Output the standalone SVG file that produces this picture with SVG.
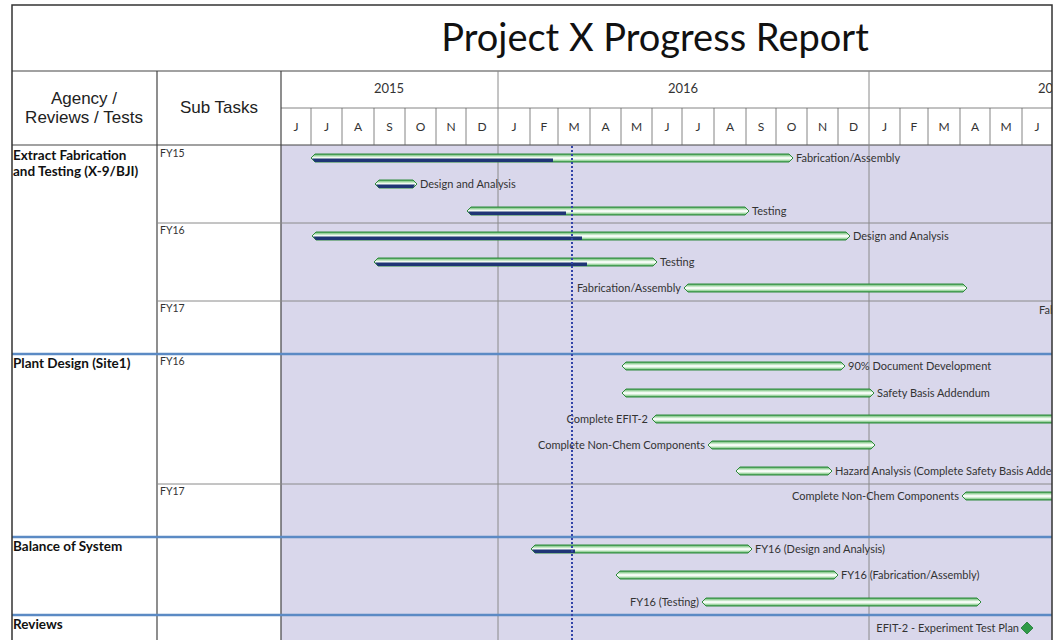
<svg xmlns="http://www.w3.org/2000/svg" width="1063" height="640" viewBox="0 0 1063 640">
<defs>
<linearGradient id="barGrad" x1="0" y1="0" x2="0" y2="1">
<stop offset="0" stop-color="#3f9f4f"/>
<stop offset="0.22" stop-color="#a6d9a9"/>
<stop offset="0.45" stop-color="#f6fcf6"/>
<stop offset="0.6" stop-color="#f6fcf6"/>
<stop offset="0.8" stop-color="#a6d9a9"/>
<stop offset="1" stop-color="#3f9f4f"/>
</linearGradient>
<clipPath id="chartClip"><rect x="281" y="71" width="771" height="569"/></clipPath>
<style>
.frame{fill:none;stroke:#333;stroke-width:1.5}
.hline{stroke:#444;stroke-width:1.2}
.mline{stroke:#666;stroke-width:0.8}
.grid{stroke:#8a8a8a;stroke-width:1}
.sec{stroke:#5b8ac4;stroke-width:2.5}
.hdr{font-family:"Liberation Sans",Arial,sans-serif;font-size:17px;fill:#222;text-anchor:middle}
.yr{font-family:Lato,"Open Sans",sans-serif;font-size:13px;fill:#333;text-anchor:middle}
.mo{font-family:Lato,"Open Sans",sans-serif;font-size:12px;fill:#333;text-anchor:middle}
.ag{font-family:Lato,"Open Sans",sans-serif;font-size:13.5px;font-weight:bold;fill:#111}
.fy{font-family:Lato,"Open Sans",sans-serif;font-size:10.5px;fill:#333}
.lbl{font-family:Lato,"Open Sans",sans-serif;font-size:11px;fill:#333}
.end{text-anchor:end}
.bar{fill:url(#barGrad);stroke:#2f8a3c;stroke-width:1}
.prog{fill:#1f3575}
.ms{fill:#2f9a47;stroke:#1f7a35;stroke-width:0.8}
.status{stroke:#3344a8;stroke-width:2;stroke-dasharray:2 2}
</style>
</defs>
<rect x="0" y="0" width="1063" height="640" fill="#fff"/>
<rect x="281" y="145" width="771" height="495" fill="#d9d7eb"/>
<g id="title">
<text x="655" y="51" font-family="Lato,'Open Sans',sans-serif" font-size="38" fill="#111" text-anchor="middle">Project X Progress Report</text>
</g>
<g id="header">
<line class="hline" x1="12" y1="71" x2="1052" y2="71"/>
<line class="hline" x1="12" y1="145" x2="1052" y2="145"/>
<line class="mline" x1="281" y1="108" x2="1052" y2="108"/>
<line class="hline" x1="157" y1="71" x2="157" y2="640"/>
<line class="hline" x1="281" y1="71" x2="281" y2="640"/>
<text class="hdr" x="84" y="104">Agency /</text>
<text class="hdr" x="84" y="123">Reviews / Tests</text>
<text class="hdr" x="219" y="113">Sub Tasks</text>
<g class="mline">
<line x1="311" y1="108" x2="311" y2="145"/><line x1="342" y1="108" x2="342" y2="145"/><line x1="374" y1="108" x2="374" y2="145"/><line x1="405" y1="108" x2="405" y2="145"/><line x1="436" y1="108" x2="436" y2="145"/><line x1="466" y1="108" x2="466" y2="145"/><line x1="530" y1="108" x2="530" y2="145"/><line x1="558" y1="108" x2="558" y2="145"/><line x1="590" y1="108" x2="590" y2="145"/><line x1="621" y1="108" x2="621" y2="145"/><line x1="652" y1="108" x2="652" y2="145"/><line x1="682" y1="108" x2="682" y2="145"/><line x1="714" y1="108" x2="714" y2="145"/><line x1="746" y1="108" x2="746" y2="145"/><line x1="776" y1="108" x2="776" y2="145"/><line x1="807" y1="108" x2="807" y2="145"/><line x1="838" y1="108" x2="838" y2="145"/><line x1="900" y1="108" x2="900" y2="145"/><line x1="928" y1="108" x2="928" y2="145"/><line x1="960" y1="108" x2="960" y2="145"/><line x1="990" y1="108" x2="990" y2="145"/><line x1="1022" y1="108" x2="1022" y2="145"/>
</g>
<text class="yr" x="389" y="93">2015</text>
<text class="yr" x="683" y="93">2016</text>
<g clip-path="url(#chartClip)"><text class="yr" x="1038" y="93" style="text-anchor:start">2017</text></g>
<text class="mo" x="296" y="131">J</text><text class="mo" x="326.5" y="131">J</text><text class="mo" x="358" y="131">A</text><text class="mo" x="389.5" y="131">S</text><text class="mo" x="420.5" y="131">O</text><text class="mo" x="451" y="131">N</text><text class="mo" x="482" y="131">D</text>
<text class="mo" x="514" y="131">J</text><text class="mo" x="544" y="131">F</text><text class="mo" x="574" y="131">M</text><text class="mo" x="605.5" y="131">A</text><text class="mo" x="636.5" y="131">M</text><text class="mo" x="667" y="131">J</text><text class="mo" x="698" y="131">J</text><text class="mo" x="730" y="131">A</text><text class="mo" x="761" y="131">S</text><text class="mo" x="791.5" y="131">O</text><text class="mo" x="822.5" y="131">N</text><text class="mo" x="853.5" y="131">D</text>
<text class="mo" x="884.5" y="131">J</text><text class="mo" x="914" y="131">F</text><text class="mo" x="944" y="131">M</text><text class="mo" x="975" y="131">A</text><text class="mo" x="1006" y="131">M</text><text class="mo" x="1037" y="131">J</text>
</g>
<g id="grid">
<line class="grid" x1="498" y1="71" x2="498" y2="640"/>
<line class="grid" x1="869" y1="71" x2="869" y2="640"/>
<line class="grid" x1="157" y1="223" x2="1052" y2="223"/>
<line class="grid" x1="157" y1="301" x2="1052" y2="301"/>
<line class="grid" x1="157" y1="484" x2="1052" y2="484"/>
<line class="sec" x1="12" y1="354" x2="1052" y2="354"/>
<line class="sec" x1="12" y1="537" x2="1052" y2="537"/>
<line class="sec" x1="12" y1="615" x2="1052" y2="615"/>
</g>
<g id="agency-extract"><text class="ag" x="13" y="160">Extract Fabrication</text><text class="ag" x="13" y="176">and Testing (X-9/BJI)</text></g>
<g id="agency-plant"><text class="ag" x="13" y="368">Plant Design (Site1)</text></g>
<g id="agency-balance"><text class="ag" x="13" y="551">Balance of System</text></g>
<g id="agency-reviews"><text class="ag" x="13" y="629">Reviews</text></g>
<g id="sub-fy15"><text class="fy" x="160" y="157">FY15</text></g>
<g id="sub-fy16a"><text class="fy" x="160" y="234">FY16</text></g>
<g id="sub-fy17a"><text class="fy" x="160" y="312">FY17</text></g>
<g id="sub-fy16b"><text class="fy" x="160" y="365">FY16</text></g>
<g id="sub-fy17b"><text class="fy" x="160" y="495">FY17</text></g>
<g clip-path="url(#chartClip)">
<g id="t1"><path class="bar" d="M311 158L315 154H789L793 158L789 162H315Z"/><path class="prog" d="M312 158.5H553V162H315Z"/><text class="lbl" x="796" y="162">Fabrication/Assembly</text></g>
<g id="t2"><path class="bar" d="M375 184L379 180H413L417 184L413 188H379Z"/><path class="prog" d="M376 184.5H415L413 188H379Z"/><text class="lbl" x="420" y="188">Design and Analysis</text></g>
<g id="t3"><path class="bar" d="M467 211L471 207H745L749 211L745 215H471Z"/><path class="prog" d="M468 211.5H566V215H471Z"/><text class="lbl" x="752" y="215">Testing</text></g>
<g id="t4"><path class="bar" d="M312 236L316 232H846L850 236L846 240H316Z"/><path class="prog" d="M313 236.5H582V240H316Z"/><text class="lbl" x="853" y="240">Design and Analysis</text></g>
<g id="t5"><path class="bar" d="M374 262L378 258H653L657 262L653 266H378Z"/><path class="prog" d="M375 262.5H587V266H378Z"/><text class="lbl" x="660" y="266">Testing</text></g>
<g id="t6"><path class="bar" d="M684 288L688 284H963L967 288L963 292H688Z"/><text class="lbl end" x="681" y="292">Fabrication/Assembly</text></g>
<g id="t7"><text class="lbl" x="1039" y="314">Fabrication/Assembly</text></g>
<g id="t8"><path class="bar" d="M622 366L626 362H841L845 366L841 370H626Z"/><text class="lbl" x="848" y="370">90% Document Development</text></g>
<g id="t9"><path class="bar" d="M622 393L626 389H870L874 393L870 397H626Z"/><text class="lbl" x="877" y="397">Safety Basis Addendum</text></g>
<g id="t10"><path class="bar" d="M652 419L656 415H1066L1070 419L1066 423H656Z"/><text class="lbl end" x="648" y="423">Complete EFIT-2</text></g>
<g id="t11"><path class="bar" d="M708 445L712 441H871L875 445L871 449H712Z"/><text class="lbl end" x="705" y="449">Complete Non-Chem Components</text></g>
<g id="t12"><path class="bar" d="M736 471L740 467H828L832 471L828 475H740Z"/><text class="lbl" x="835" y="475">Hazard Analysis (Complete Safety Basis Addendum)</text></g>
<g id="t13"><path class="bar" d="M962 496L966 492H1066L1070 496L1066 500H966Z"/><text class="lbl end" x="959" y="500">Complete Non-Chem Components</text></g>
<g id="t14"><path class="bar" d="M531 549L535 545H748L752 549L748 553H535Z"/><path class="prog" d="M532 549.5H575V553H535Z"/><text class="lbl" x="755" y="553">FY16 (Design and Analysis)</text></g>
<g id="t15"><path class="bar" d="M616 575L620 571H834L838 575L834 579H620Z"/><text class="lbl" x="841" y="579">FY16 (Fabrication/Assembly)</text></g>
<g id="t16"><path class="bar" d="M702 602L706 598H977L981 602L977 606H706Z"/><text class="lbl end" x="699" y="606">FY16 (Testing)</text></g>
<g id="m1"><path class="ms" d="M1027 622L1033 628L1027 634L1021 628Z"/><text class="lbl end" x="1019" y="632">EFIT-2 - Experiment Test Plan</text></g>
</g>
<g id="connectors">
<line class="status" x1="572" y1="146" x2="572" y2="640"/>
</g>
<rect class="frame" x="12" y="5" width="1040" height="640"/>
</svg>
